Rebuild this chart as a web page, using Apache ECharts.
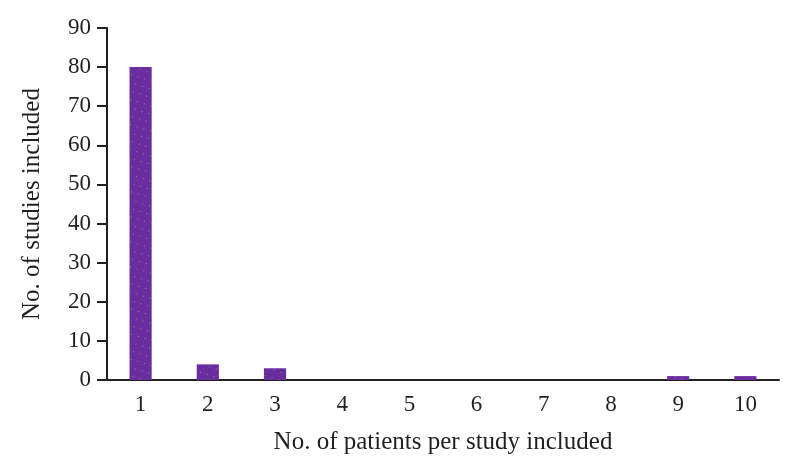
<!DOCTYPE html>
<html><head><meta charset="utf-8">
<script src="https://cdn.jsdelivr.net/npm/echarts@6/dist/echarts.min.js"></script>
<style>html,body{margin:0;padding:0;background:#fff}#c{width:793px;height:460px}</style>
</head><body><div id="c"></div>
<script>
const categories = ['1','2','3','4','5','6','7','8','9','10'];
const studies = [80, 4, 3, 0, 0, 0, 0, 0, 1, 1];
const yTicks = [0,10,20,30,40,50,60,70,80,90];
const chart = echarts.init(document.getElementById('c'), null, {renderer:'canvas'});
const font = 'Liberation Serif';
chart.setOption({
  animation:false,
  grid:{left:107, top:28, right:14, bottom:79},
  xAxis:{type:'category', data:categories,
    name:'No. of patients per study included', nameLocation:'middle', nameGap:50,
    nameTextStyle:{fontFamily:font, fontSize:25, color:'#231f20'},
    axisLine:{lineStyle:{color:'#231f20', width:2}},
    axisTick:{show:false},
    axisLabel:{fontFamily:font, fontSize:23, color:'#231f20', margin:13}},
  yAxis:{type:'value', min:0, max:90, interval:10,
    name:'No. of studies included', nameLocation:'middle', nameGap:62,
    nameTextStyle:{fontFamily:font, fontSize:25, color:'#231f20'},
    axisLine:{show:true, lineStyle:{color:'#231f20', width:2}},
    axisTick:{show:true, length:10, lineStyle:{color:'#231f20', width:2}},
    splitLine:{show:false},
    axisLabel:{fontFamily:font, fontSize:23, color:'#231f20', margin:16,
      formatter: v => yTicks.includes(v) ? String(v) : ''}},
  series:[{type:'bar', data:studies, barWidth:'33%',
    itemStyle:{color:'#6a2d9f',
      decal:{symbol:'rect', symbolSize:1, color:'rgba(200,180,90,0.6)', dashArrayX:[1,6], dashArrayY:[1,7], rotation:0.3}}}]
});
</script></body></html>
